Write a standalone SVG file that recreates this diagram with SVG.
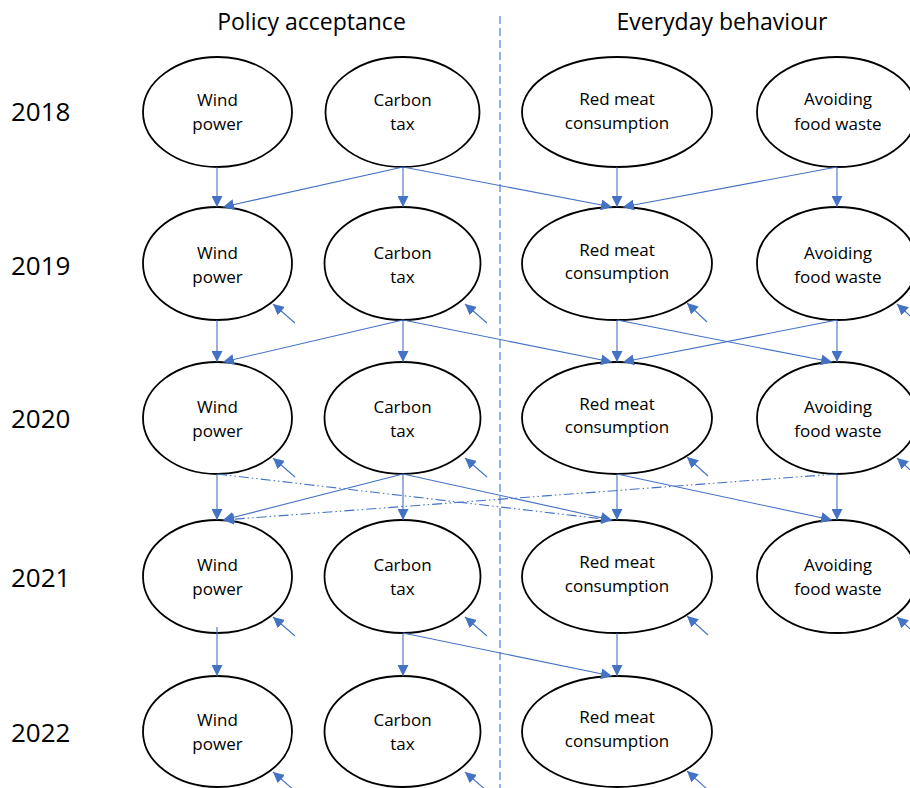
<svg xmlns="http://www.w3.org/2000/svg" width="910" height="788" viewBox="0 0 910 788">
<defs>
<style>
.n ellipse{fill:#fff;stroke:#000;stroke-width:1.8}
.n text{font-family:"Open Sans","Liberation Sans",sans-serif;font-size:17px;fill:#000;text-anchor:middle}
.hd{font-family:"Open Sans","Liberation Sans",sans-serif;font-size:23px;fill:#000;text-anchor:middle}
.yr{font-family:"Open Sans","Liberation Sans",sans-serif;font-size:26px;fill:#000}
.e{stroke:#4472C4;stroke-width:1.1;fill:none;marker-end:url(#ah)}
.dd{stroke-dasharray:10,3,1.5,3,1.5,3}
</style>
<marker id="ah" markerUnits="userSpaceOnUse" markerWidth="11" markerHeight="11" refX="11" refY="5.5" orient="auto">
<path d="M0,0 L11,5.5 L0,11 z" fill="#4472C4"/>
</marker>
</defs>
<rect width="910" height="788" fill="#fff"/>
<text class="hd" x="311.5" y="30">Policy acceptance</text>
<text class="hd" x="722" y="30">Everyday behaviour</text>
<line x1="500" y1="16" x2="500" y2="788" stroke="#5B8BD6" stroke-width="1.3" stroke-dasharray="8,4"/>
<g id="years">
<text class="yr" x="11" y="121">2018</text>
<text class="yr" x="11" y="275">2019</text>
<text class="yr" x="11" y="428">2020</text>
<text class="yr" x="11" y="587">2021</text>
<text class="yr" x="11" y="742">2022</text>
</g>
<g id="w2018" class="n"><ellipse cx="217.5" cy="112" rx="74.5" ry="55"/><text x="217.5" y="106">Wind</text><text x="217.5" y="130">power</text></g>
<g id="c2018" class="n"><ellipse cx="402.5" cy="112" rx="77" ry="55"/><text x="402.5" y="106">Carbon</text><text x="402.5" y="130">tax</text></g>
<g id="r2018" class="n"><ellipse cx="617" cy="112" rx="95" ry="55"/><text x="617" y="105">Red meat</text><text x="617" y="129">consumption</text></g>
<g id="a2018" class="n"><ellipse cx="837" cy="112" rx="80" ry="55"/><text x="838" y="105">Avoiding</text><text x="838" y="130">food waste</text></g>
<g id="w2019" class="n"><ellipse cx="217.5" cy="263.5" rx="74.5" ry="56.5"/><text x="217.5" y="259">Wind</text><text x="217.5" y="283">power</text></g>
<g id="c2019" class="n"><ellipse cx="402.5" cy="263.5" rx="78" ry="56.5"/><text x="402.5" y="259">Carbon</text><text x="402.5" y="283">tax</text></g>
<g id="r2019" class="n"><ellipse cx="617" cy="263.5" rx="95" ry="56.5"/><text x="617" y="256">Red meat</text><text x="617" y="279">consumption</text></g>
<g id="a2019" class="n"><ellipse cx="837" cy="263.5" rx="80" ry="56.5"/><text x="838" y="259">Avoiding</text><text x="838" y="283">food waste</text></g>
<g id="w2020" class="n"><ellipse cx="217.5" cy="418" rx="74.5" ry="56"/><text x="217.5" y="413">Wind</text><text x="217.5" y="437">power</text></g>
<g id="c2020" class="n"><ellipse cx="402.5" cy="418" rx="78" ry="56"/><text x="402.5" y="413">Carbon</text><text x="402.5" y="437">tax</text></g>
<g id="r2020" class="n"><ellipse cx="617" cy="418" rx="95" ry="56"/><text x="617" y="410">Red meat</text><text x="617" y="433">consumption</text></g>
<g id="a2020" class="n"><ellipse cx="837" cy="418" rx="80" ry="56"/><text x="838" y="413">Avoiding</text><text x="838" y="437">food waste</text></g>
<g id="w2021" class="n"><ellipse cx="217.5" cy="576.5" rx="74.5" ry="56.5"/><text x="217.5" y="571">Wind</text><text x="217.5" y="595">power</text></g>
<g id="c2021" class="n"><ellipse cx="402.5" cy="576.5" rx="78" ry="56.5"/><text x="402.5" y="571">Carbon</text><text x="402.5" y="595">tax</text></g>
<g id="r2021" class="n"><ellipse cx="617" cy="576.5" rx="95" ry="56.5"/><text x="617" y="568">Red meat</text><text x="617" y="592">consumption</text></g>
<g id="a2021" class="n"><ellipse cx="837" cy="576.5" rx="80" ry="56.5"/><text x="838" y="571">Avoiding</text><text x="838" y="595">food waste</text></g>
<g id="w2022" class="n"><ellipse cx="217.5" cy="731.5" rx="74.5" ry="55.5"/><text x="217.5" y="726">Wind</text><text x="217.5" y="750">power</text></g>
<g id="c2022" class="n"><ellipse cx="402.5" cy="731.5" rx="78" ry="55.5"/><text x="402.5" y="726">Carbon</text><text x="402.5" y="750">tax</text></g>
<g id="r2022" class="n"><ellipse cx="617" cy="731.5" rx="95" ry="55.5"/><text x="617" y="723">Red meat</text><text x="617" y="747">consumption</text></g>
<g id="connectors">
<line class="e" x1="217" y1="167" x2="217" y2="207"/>
<line class="e" x1="403" y1="167" x2="403" y2="207"/>
<line class="e" x1="403" y1="167" x2="223" y2="207"/>
<line class="e" x1="403" y1="167" x2="612" y2="207"/>
<line class="e" x1="617" y1="167" x2="617" y2="207"/>
<line class="e" x1="837" y1="167" x2="623" y2="207"/>
<line class="e" x1="837" y1="167" x2="837" y2="207"/>
<line class="e" x1="217" y1="320" x2="217" y2="362"/>
<line class="e" x1="403" y1="320" x2="403" y2="362"/>
<line class="e" x1="403" y1="320" x2="223" y2="362"/>
<line class="e" x1="403" y1="320" x2="612" y2="362"/>
<line class="e" x1="617" y1="320" x2="617" y2="362"/>
<line class="e" x1="617" y1="320" x2="832" y2="362"/>
<line class="e" x1="837" y1="320" x2="623" y2="362"/>
<line class="e" x1="837" y1="320" x2="837" y2="362"/>
<line class="e" x1="217" y1="474" x2="217" y2="520"/>
<line class="e" x1="403" y1="474" x2="403" y2="520"/>
<line class="e" x1="403" y1="474" x2="223" y2="520"/>
<line class="e" x1="403" y1="474" x2="612" y2="520"/>
<line class="e dd" x1="217" y1="474" x2="612" y2="520"/>
<line class="e dd" x1="837" y1="474" x2="223" y2="520"/>
<line class="e" x1="617" y1="474" x2="617" y2="520"/>
<line class="e" x1="617" y1="474" x2="832" y2="520"/>
<line class="e" x1="837" y1="474" x2="837" y2="520"/>
<line class="e" x1="217" y1="627" x2="217" y2="676"/>
<line class="e" x1="403" y1="633" x2="403" y2="676"/>
<line class="e" x1="403" y1="633" x2="612" y2="676"/>
<line class="e" x1="617" y1="633" x2="617" y2="676"/>
<line class="e" x1="295" y1="323" x2="273" y2="304"/>
<line class="e" x1="487" y1="323" x2="465" y2="304"/>
<line class="e" x1="707" y1="322" x2="687" y2="303"/>
<line class="e" x1="918" y1="323" x2="897" y2="304"/>
<line class="e" x1="295" y1="477" x2="273" y2="458"/>
<line class="e" x1="487" y1="477" x2="465" y2="458"/>
<line class="e" x1="708" y1="476" x2="687" y2="457"/>
<line class="e" x1="918" y1="477" x2="897" y2="458"/>
<line class="e" x1="295" y1="636" x2="273" y2="617"/>
<line class="e" x1="487" y1="636" x2="465" y2="617"/>
<line class="e" x1="708" y1="635" x2="687" y2="616"/>
<line class="e" x1="918" y1="636" x2="897" y2="617"/>
<line class="e" x1="295" y1="791" x2="273" y2="772"/>
<line class="e" x1="487" y1="791" x2="465" y2="772"/>
<line class="e" x1="708" y1="790" x2="687" y2="771"/>
</g>
</svg>
